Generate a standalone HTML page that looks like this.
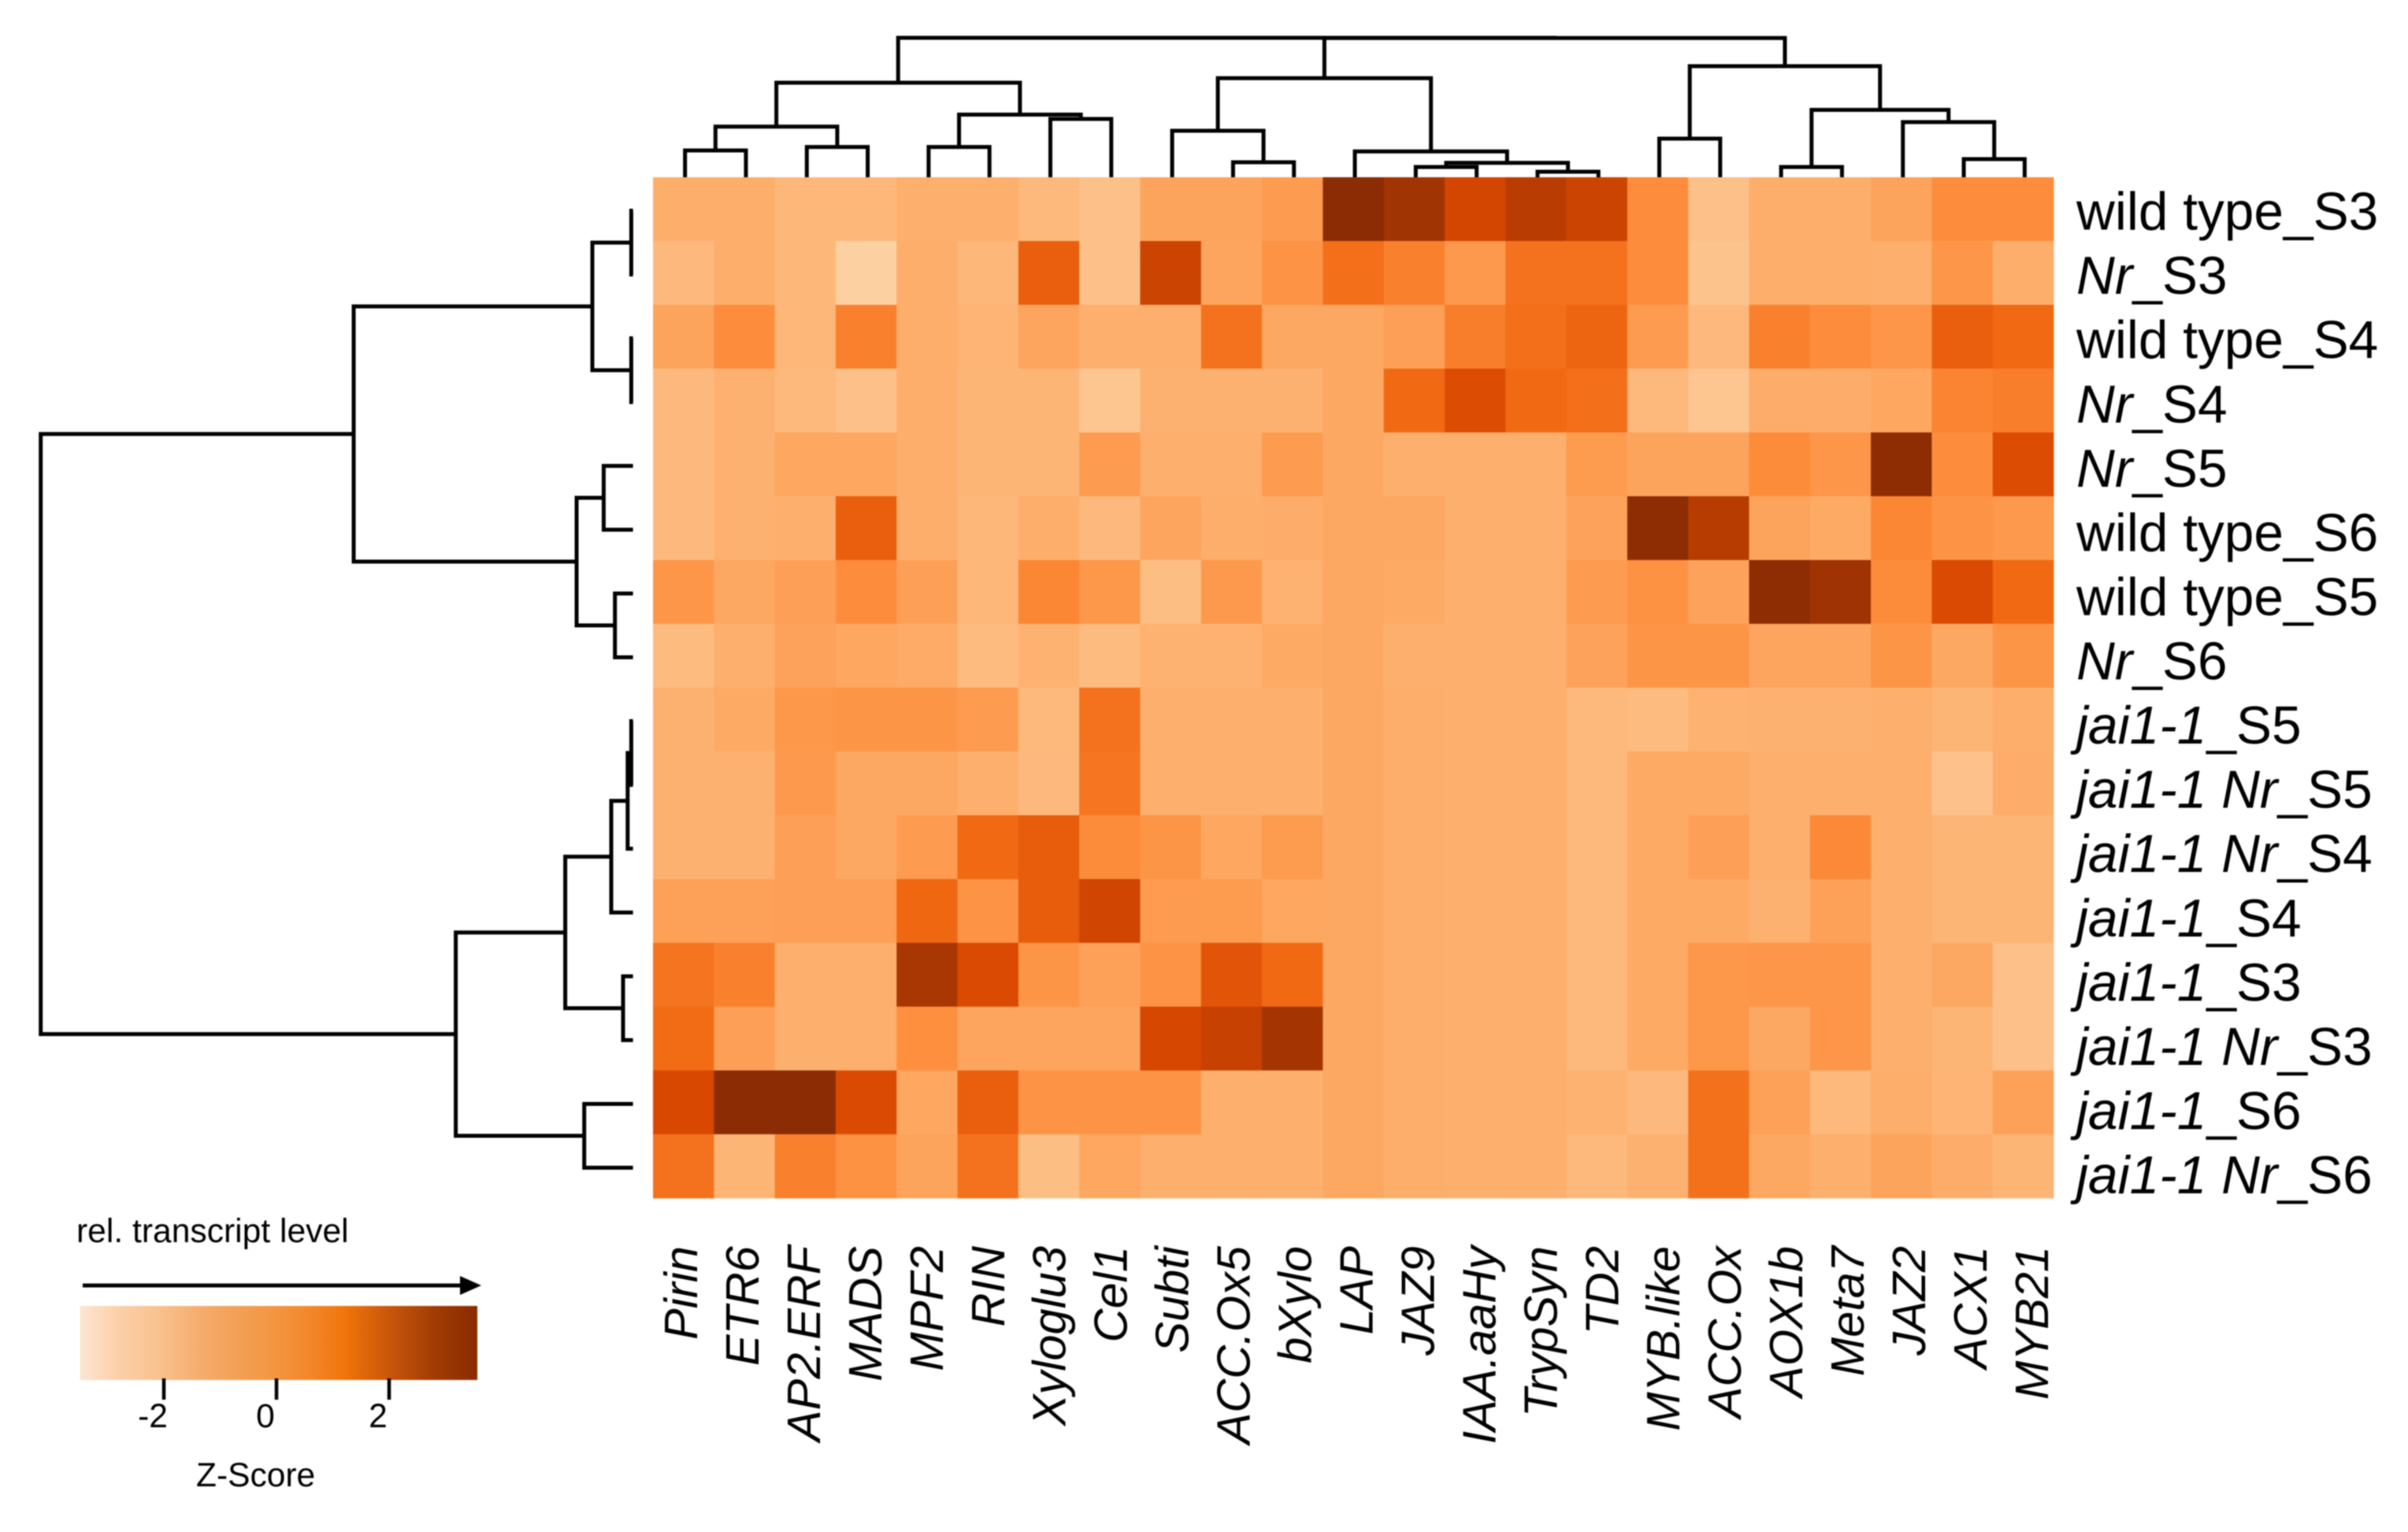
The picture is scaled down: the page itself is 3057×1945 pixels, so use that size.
<!DOCTYPE html>
<html lang="en">
<head>
<meta charset="utf-8">
<title>Transcript level heatmap</title>
<style>
  html, body { margin: 0; padding: 0; background: #fff; }
  svg { display: block; filter: blur(0.9px); }
  text { font-family: "Liberation Sans", Arial, sans-serif; fill: #000; }
</style>
</head>
<body>
<svg id="chart" xmlns="http://www.w3.org/2000/svg" width="3057" height="1945" viewBox="0 0 3057 1945">
  <rect x="0" y="0" width="3057" height="1945" fill="#fff"/>
  <g id="gene-dendro"></g>
  <g id="sample-dendro"></g>
  <g id="cells"></g>
  <g id="row-labels"></g>
  <g id="col-labels"></g>
  <g id="legend">
    <text x="97" y="1577" font-size="42.6">rel. transcript level</text>
    <line x1="105" y1="1632" x2="588" y2="1632" stroke="#000" stroke-width="5"/>
    <polygon points="584,1620 611,1632 584,1644" fill="#000"/>
    <defs id="legend-defs"></defs>
    <rect id="legend-bar" x="101.5" y="1658" width="504.5" height="94" fill="url(#legend-gradient)"/>
    <g id="legend-ticks"></g>
    <text x="249" y="1887" font-size="42.5">Z-Score</text>
  </g>
</svg>
<script>
const geneNames = ['Pirin','ETR6','AP2.ERF','MADS','MPF2','RIN','Xyloglu3','Cel1','Subti','ACC.Ox5','bXylo','LAP','JAZ9','IAA.aaHy','TrypSyn','TD2','MYB.like','ACC.Ox','AOX1b','Meta7','JAZ2','ACX1','MYB21'];

// each label: [italic part, upright part]
const sampleLabels = [
  ['', 'wild type_S3'], ['Nr', '_S3'], ['', 'wild type_S4'], ['Nr', '_S4'],
  ['Nr', '_S5'], ['', 'wild type_S6'], ['', 'wild type_S5'], ['Nr', '_S6'],
  ['jai1-1', '_S5'], ['jai1-1 Nr', '_S5'], ['jai1-1 Nr', '_S4'], ['jai1-1', '_S4'],
  ['jai1-1', '_S3'], ['jai1-1 Nr', '_S3'], ['jai1-1', '_S6'], ['jai1-1 Nr', '_S6']
];

// one row per sample, one value per gene
const zScores = [
  [-1.2,-1.2,-1.5,-1.5,-1.25,-1.25,-1.55,-1.85,-0.85,-0.85,-0.6,3.25,2.8,2.0,2.4,2.1,-0.1,-1.85,-1.2,-1.2,-0.85,-0.1,-0.1],
  [-1.6,-1.2,-1.5,-2.4,-1.2,-1.5,1.35,-1.85,2.1,-0.9,-0.3,0.9,0.3,-0.5,0.8,0.8,-0.1,-1.95,-1.2,-1.2,-1.25,-0.4,-1.2],
  [-0.85,-0.1,-1.5,0.3,-1.2,-1.4,-0.9,-1.25,-1.25,0.8,-1.0,-1.0,-0.7,0.4,0.9,1.2,-0.6,-1.6,0.3,-0.1,-0.4,1.35,1.1],
  [-1.6,-1.3,-1.55,-1.85,-1.2,-1.45,-1.45,-2.0,-1.3,-1.3,-1.3,-1.0,1.1,1.8,1.1,0.9,-1.55,-2.0,-1.15,-1.15,-0.95,0.2,0.4],
  [-1.6,-1.3,-0.95,-0.95,-1.2,-1.45,-1.45,-0.6,-1.25,-1.25,-0.6,-1.0,-1.25,-1.25,-1.25,-0.55,-0.85,-0.85,-0.05,-0.4,3.2,-0.1,1.8],
  [-1.6,-1.3,-1.25,1.35,-1.2,-1.5,-1.2,-1.6,-0.9,-1.2,-1.15,-1.0,-1.0,-1.25,-1.25,-0.8,3.2,2.45,-0.85,-1.05,0.1,-0.3,-0.5],
  [-0.4,-1.0,-0.7,-0.1,-0.7,-1.5,0.1,-0.45,-1.75,-0.5,-1.35,-1.0,-1.05,-1.25,-1.25,-0.6,-0.25,-0.8,3.2,2.85,-0.05,1.85,1.1],
  [-1.65,-1.25,-0.8,-0.95,-1.1,-1.65,-1.35,-1.65,-1.35,-1.35,-1.05,-1.0,-1.25,-1.25,-1.25,-0.8,-0.35,-0.35,-0.9,-0.9,-0.35,-1.0,-0.35],
  [-1.3,-1.05,-0.45,-0.35,-0.35,-0.6,-1.55,0.8,-1.25,-1.25,-1.25,-1.0,-1.2,-1.25,-1.25,-1.55,-1.65,-1.35,-1.3,-1.3,-1.25,-1.45,-1.2],
  [-1.3,-1.3,-0.5,-1.0,-1.0,-1.25,-1.6,0.7,-1.25,-1.25,-1.25,-1.0,-1.2,-1.25,-1.25,-1.55,-1.05,-1.05,-1.25,-1.25,-1.25,-1.9,-1.15],
  [-1.3,-1.3,-0.7,-1.0,-0.6,1.1,1.4,-0.05,-0.35,-0.95,-0.55,-1.0,-1.2,-1.25,-1.25,-1.55,-1.05,-0.7,-1.25,0.05,-1.25,-1.45,-1.45],
  [-0.75,-0.75,-0.7,-0.7,1.15,-0.3,1.4,2.05,-0.6,-0.55,-0.95,-1.0,-1.2,-1.25,-1.25,-1.55,-1.05,-1.05,-1.3,-0.75,-1.25,-1.45,-1.45],
  [0.75,0.3,-1.25,-1.25,2.65,1.85,-0.35,-0.75,-0.3,1.6,1.1,-1.0,-1.2,-1.25,-1.25,-1.55,-1.05,-0.45,-0.4,-0.4,-1.25,-1.0,-1.85],
  [1.05,-0.7,-1.25,-1.25,-0.15,-0.9,-0.9,-0.9,1.95,2.2,2.75,-1.0,-1.2,-1.25,-1.25,-1.55,-1.05,-0.45,-1.0,-0.4,-1.25,-1.45,-1.85],
  [1.9,3.25,3.25,1.85,-0.95,1.35,-0.3,-0.3,-0.3,-1.25,-1.25,-1.0,-1.2,-1.25,-1.25,-1.35,-1.6,0.85,-0.75,-1.55,-1.2,-1.4,-0.75],
  [0.8,-1.45,0.35,-0.25,-0.85,0.8,-1.75,-0.95,-1.25,-1.25,-1.25,-1.0,-1.2,-1.25,-1.25,-1.55,-1.3,0.85,-1.0,-1.25,-0.85,-1.15,-1.45]
];

// merges: [a, b, height]; a/b >= 0 is a leaf index, a/b < 0 refers to merge -(k+1)
const geneMerges = [
  [0,1,3.4],[2,3,3.84],[-1,-2,6.43],[4,5,3.84],[6,7,7.4],[-4,-5,7.95],[-3,-6,12.0],
  [9,10,1.9],[8,-8,5.9],[12,13,1.3],[14,15,0.7],[-10,-11,1.83],[11,-12,3.27],[-9,-13,12.57],
  [16,17,4.9],[18,19,1.3],[21,22,2.3],[20,-17,7.0],[-16,-18,8.55],[-15,-19,14.1],[-14,-20,17.68],[-7,-21,17.7]
];
const sampleMerges = [
  [0,1,0.22],[2,3,0.22],[-1,-2,5.16],[4,5,3.72],[6,7,2.29],[-4,-5,7.16],[-3,-6,35.46],
  [8,9,0.22],[-8,10,0.68],[-9,11,2.76],[12,13,1.26],[-10,-11,8.6],[14,15,6.19],[-12,-13,22.5],[-7,-14,75.19]
];

const legendTicks = [-2, 0, 2];

// colour scale: z value -> colour
const scaleZ = [-3.5,-2.4,-1.2,-0.1,1.1,1.9,2.7,3.5];
const scaleColours = ['#fee6ce','#fdd0a2','#fdae6b','#fd8d3c','#f16913','#d94801','#a63603','#7f2704'];
// colour-bar appearance
const legendZ = [-3.49,-2.8,-2.05,-1.3,-0.6,0,0.65,1.23,2,2.8,3.57];
const legendColours = ['#fde5d2','#fbd0a8','#f8c08c','#f5ab6a','#f39e52','#f39540','#f28528','#f0740a','#c9560a','#a23c04','#8a2a02'];

const NS = 'http://www.w3.org/2000/svg';
function make(tag, attrs, parent) {
  const el = document.createElementNS(NS, tag);
  for (const k in attrs) el.setAttribute(k, attrs[k]);
  parent.appendChild(el);
  return el;
}

// axes
const colX = i => 829 + i * (2607 - 829) / geneNames.length;
const rowY = i => 225 + i * (1521 - 225) / sampleLabels.length;
const colCentre = i => colX(i + 0.5) + 2;
const rowCentre = i => rowY(i + 0.5) + 2;
const geneHeightY = h => 225 - h * 10;
const sampleHeightX = h => 803.6 - h * 10;
const rowLabelY = i => 291.6 + i * 81.56;
const colLabelX = i => 885 + i * 77.95;
const legendX = z => 351 + z * 71.5;

function hexRgb(h) {
  return [parseInt(h.slice(1,3),16), parseInt(h.slice(3,5),16), parseInt(h.slice(5,7),16)];
}
function colourFor(z) {
  if (z <= scaleZ[0]) return scaleColours[0];
  for (let i = 1; i < scaleZ.length; i++) {
    if (z <= scaleZ[i]) {
      const t = (z - scaleZ[i-1]) / (scaleZ[i] - scaleZ[i-1]);
      const a = hexRgb(scaleColours[i-1]), b = hexRgb(scaleColours[i]);
      return 'rgb(' + a.map((v, k) => Math.round(v + (b[k] - v) * t)).join(',') + ')';
    }
  }
  return scaleColours[scaleColours.length - 1];
}

// heatmap cells
const cellsG = document.getElementById('cells');
zScores.forEach((row, r) => {
  row.forEach((z, c) => {
    const cell = make('rect', {
      x: colX(c).toFixed(2), y: rowY(r).toFixed(2),
      width: (colX(c + 1) - colX(c) + 0.4).toFixed(2),
      height: (rowY(r + 1) - rowY(r) + 0.4).toFixed(2),
      fill: colourFor(z)
    }, cellsG);
    
    
  });
});

// gene dendrogram (top)
const geneG = document.getElementById('gene-dendro');
const geneNodes = [];
function geneRef(a) {
  return a >= 0 ? { pos: colCentre(a), h: 0 } : geneNodes[-a - 1];
}
geneMerges.forEach((m) => {
  const a = geneRef(m[0]), b = geneRef(m[1]);
  const y = geneHeightY(m[2]);
  const branch = make('path', {
    d: 'M' + a.pos + ' ' + geneHeightY(a.h) + 'V' + y + 'H' + b.pos + 'V' + geneHeightY(b.h),
    fill: 'none', stroke: '#000', 'stroke-width': 5
  }, geneG);
  
  
  geneNodes.push({ pos: (a.pos + b.pos) / 2, h: m[2] });
});

// sample dendrogram (left)
const sampleG = document.getElementById('sample-dendro');
const sampleNodes = [];
function sampleRef(a) {
  return a >= 0 ? { pos: rowCentre(a), h: 0 } : sampleNodes[-a - 1];
}
sampleMerges.forEach((m) => {
  const a = sampleRef(m[0]), b = sampleRef(m[1]);
  const x = sampleHeightX(m[2]);
  const branch = make('path', {
    d: 'M' + sampleHeightX(a.h) + ' ' + a.pos + 'H' + x + 'V' + b.pos + 'H' + sampleHeightX(b.h),
    fill: 'none', stroke: '#000', 'stroke-width': 5
  }, sampleG);
  
  
  sampleNodes.push({ pos: (a.pos + b.pos) / 2, h: m[2] });
});

// sample labels
const rowG = document.getElementById('row-labels');
sampleLabels.forEach((parts, i) => {
  const t = make('text', { x: 2636, y: rowLabelY(i).toFixed(1), 'font-size': 67.6 }, rowG);
  
  
  if (parts[0]) {
    const it = make('tspan', { 'font-style': 'italic' }, t);
    it.textContent = parts[0];
  }
  const up = make('tspan', {}, t);
  up.textContent = parts[1];
});

// gene labels
const colG = document.getElementById('col-labels');
geneNames.forEach((name, i) => {
  const x = colLabelX(i).toFixed(1);
  const t = make('text', {
    x: x, y: 1582, 'font-size': 59.5, 'font-style': 'italic', 'text-anchor': 'end',
    transform: 'rotate(-90 ' + x + ' 1582)'
  }, colG);
  
  
  t.textContent = name;
});

// legend gradient
const grad = make('linearGradient', {
  id: 'legend-gradient', gradientUnits: 'userSpaceOnUse',
  x1: legendX(legendZ[0]), y1: 0, x2: legendX(legendZ[legendZ.length - 1]), y2: 0
}, document.getElementById('legend-defs'));
legendZ.forEach((z, i) => {
  make('stop', {
    offset: (z - legendZ[0]) / (legendZ[legendZ.length - 1] - legendZ[0]),
    'stop-color': legendColours[i]
  }, grad);
});

// legend ticks
const ticksG = document.getElementById('legend-ticks');
legendTicks.forEach((v) => {
  const tick = make('line', {
    x1: legendX(v), x2: legendX(v), y1: 1750, y2: 1777, stroke: '#000', 'stroke-width': 4.5
  }, ticksG);
  
  
  const lab = make('text', {
    x: legendX(v) - 14, y: 1812, 'font-size': 42.5, 'text-anchor': 'middle'
  }, ticksG);
  
  
  lab.textContent = String(v);
});
</script>
</body>
</html>
